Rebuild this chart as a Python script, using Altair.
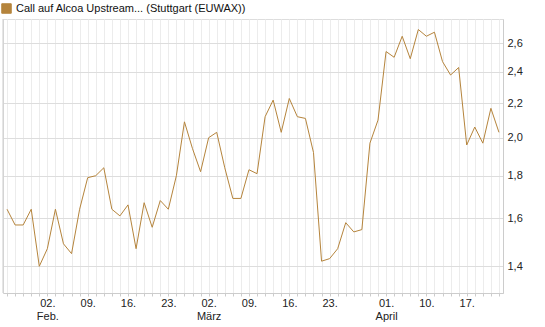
import altair as alt
import pandas as pd

series_name = "Call auf Alcoa Upstream... (Stuttgart (EUWAX))"
prices = [
    1.64, 1.57, 1.57, 1.64, 1.40, 1.47, 1.64, 1.49, 1.45, 1.64,
    1.79, 1.80, 1.84, 1.64, 1.61, 1.66, 1.47, 1.67, 1.56, 1.68,
    1.64, 1.80, 2.09, 1.94, 1.82, 2.00, 2.03, 1.84, 1.69, 1.69,
    1.83, 1.81, 2.12, 2.22, 2.03, 2.23, 2.12, 2.11, 1.92, 1.42,
    1.43, 1.47, 1.58, 1.54, 1.55, 1.97, 2.10, 2.54, 2.50, 2.65,
    2.49, 2.70, 2.65, 2.68, 2.47, 2.38, 2.43, 1.96, 2.06, 1.97,
    2.17, 2.03,
]
day_tick_index = [5, 10, 15, 20, 25, 30, 35, 40, 47, 52, 57]
day_tick_labels = ["02.", "09.", "16.", "23.", "02.", "09.", "16.", "23.", "01.", "10.", "17."]
month_tick_index = [5, 25, 47]
month_tick_labels = ["Feb.", "März", "April"]
y_ticks = [1.4, 1.6, 1.8, 2.0, 2.2, 2.4, 2.6]

line_color = "#b5843c"
font = "Liberation Sans"

df = pd.DataFrame({"i": list(range(len(prices))), "price": prices, "series": series_name})

# build label expression
parts = []
for idx, lab in zip(day_tick_index, day_tick_labels):
    if idx in month_tick_index:
        m = month_tick_labels[month_tick_index.index(idx)]
        parts.append(f"datum.value == {idx} ? ['{lab}', '{m}']")
    else:
        parts.append(f"datum.value == {idx} ? '{lab}'")
x_label_expr = " : ".join(parts) + " : ''"

n = len(prices)
x_scale = alt.Scale(domain=[-0.5, n - 0.5], nice=False, zero=False)
y_scale = alt.Scale(type="log", domain=[1.30, 2.78], nice=False, zero=False)

x_axis = alt.Axis(
    values=list(range(n)), labelExpr=x_label_expr, title=None,
    grid=True, gridColor="#ececec", gridWidth=1,
    domainColor="#cccccc", tickColor="#cccccc", tickSize=3,
    labelPadding=1, labelFontSize=11, labelLineHeight=13, labelColor="#222222",
    labelFont=font, labelOverlap=False, labelFlush=False, labelAngle=0,
)
y_axis = alt.Axis(
    orient="right", values=y_ticks, title=None,
    labelExpr="replace(format(datum.value, '.1f'), '.', ',')",
    grid=True, gridColor="#dddddd", gridWidth=1,
    domainColor="#cccccc", ticks=False, labelPadding=4,
    labelFontSize=11, labelColor="#222222", labelFont=font,
)

line = alt.Chart(df).mark_line(strokeWidth=1, color=line_color).encode(
    x=alt.X("i:Q", scale=x_scale, axis=x_axis),
    y=alt.Y("price:Q", scale=y_scale, axis=y_axis),
    color=alt.Color(
        "series:N",
        scale=alt.Scale(domain=[series_name], range=[line_color]),
        legend=alt.Legend(
            orient="none", legendX=-2, legendY=-16, title=None,
            symbolType="square", symbolSize=90,
            symbolFillColor=line_color, symbolStrokeColor="#6e5024",
            symbolStrokeWidth=1, labelFontSize=11, labelFont=font,
            labelColor="#111111", padding=0, labelOffset=4, labelLimit=0,
        ),
    ),
)

left_edge = alt.Chart(alt.Data(values=[{"e": -0.5}])).mark_rule(
    color="#cccccc", strokeWidth=1
).encode(x=alt.X("e:Q", scale=x_scale, axis=x_axis))

chart = alt.layer(line, left_edge).properties(
    width=500, height=274,
    autosize=alt.AutoSizeParams(type="none"),
    padding={"left": 3, "top": 19, "right": 42, "bottom": 34},
).configure_view(stroke=None).configure(background="white")

chart.save("out.html", embed_options={"renderer": "svg", "actions": False})
